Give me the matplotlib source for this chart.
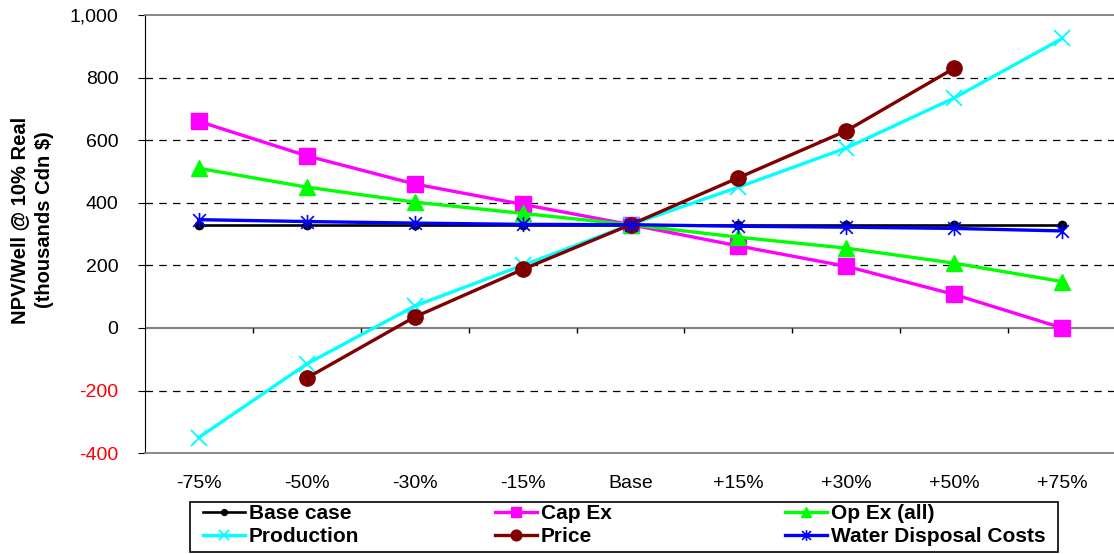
import numpy as np
import matplotlib
matplotlib.use('Agg')
import matplotlib.pyplot as plt
from matplotlib.patches import Rectangle
from matplotlib.path import Path
from matplotlib.ticker import FuncFormatter

plt.rcParams['font.family'] = ['Liberation Sans', 'DejaVu Sans']

categories = ['-75%', '-50%', '-30%', '-15%', 'Base', '+15%', '+30%', '+50%', '+75%']
base_case = [330, 330, 330, 330, 330, 330, 330, 330, 330]
cap_ex = [660, 550, 460, 395, 330, 262, 197, 107, 0]
op_ex = [510, 450, 402, 366, 330, 290, 255, 207, 148]
production = [-350, -115, 70, 200, 330, 450, 575, 735, 925]
price = [np.nan, -160, 35, 187, 330, 480, 630, 830, np.nan]
water = [346, 340, 335, 331, 330, 325, 322, 318, 310]

x = np.arange(len(categories))

# excel style star: an x with a vertical bar through it
star = Path([(-1, -1), (1, 1), (-1, 1), (1, -1), (0, -1.2), (0, 1.2)],
            [Path.MOVETO, Path.LINETO] * 3)

fig = plt.figure(figsize=(11.14, 5.54), dpi=100)
ax = fig.add_axes([0.130, 0.182, 0.872, 0.791])

ax.plot(x, base_case, color='black', lw=1.9, marker='o', ms=6, label='Base case')
ax.plot(x, cap_ex, color='#ff00ff', lw=2.4, marker='s', ms=11, label='Cap Ex')
ax.plot(x, op_ex, color='#00ff00', lw=2.4, marker='^', ms=11, label='Op Ex (all)')
ax.plot(x, production, color='#00ffff', lw=2.4, marker='x', ms=11, mew=1.3, label='Production')
ax.plot(x, price, color='#800000', lw=2.4, marker='o', ms=11, label='Price')
ax.plot(x, water, color='#0000ff', lw=2.4, marker=star, ms=11, mew=1.2,
        label='Water Disposal Costs')

ax.set_xlim(-0.5, 8.5)
ax.set_ylim(-400, 1000)
ax.set_yticks(np.arange(-400, 1001, 200))
ax.yaxis.set_major_formatter(FuncFormatter(lambda v, p: f'{v:,.0f}'))
for lab, v in zip(ax.get_yticklabels(), ax.get_yticks()):
    if v < 0:
        lab.set_color('red')

for v in [-200, 200, 400, 600, 800]:
    ax.axhline(v, color='black', lw=0.9, ls=(0, (6, 5)), zorder=0)
ax.axhline(0, color='#808080', lw=1.5, zorder=0)
ax.vlines(x[:-1] + 0.5, -16, 0, color='black', lw=1, zorder=0)

ax.set_xticks(x)
ax.set_xticklabels(categories)
ax.tick_params(axis='x', length=0, pad=16, labelsize=14)
ax.tick_params(axis='y', length=5, labelsize=14, pad=14)

ax.spines['top'].set_color('#808080')
ax.spines['bottom'].set_color('#808080')
ax.spines['right'].set_visible(False)
ax.spines['left'].set_color('black')
ax.spines['top'].set_linewidth(1.3)
ax.spines['bottom'].set_linewidth(1.3)

ax.set_ylabel('NPV/Well @ 10% Real\n(thousands Cdn $)', fontsize=14.5,
              fontweight='bold', linespacing=1.45)
ax.yaxis.set_label_coords(-0.093, 0.532)

# legend: three columns of equal width inside one frame
h, l = ax.get_legend_handles_labels()
col_x = [0.1822, 0.4443, 0.7047]
for c, xc in enumerate(col_x):
    fig.legend([h[c], h[c + 3]], [l[c], l[c + 3]], loc='upper left',
               bbox_to_anchor=(xc, 0.0903), frameon=False,
               prop={'weight': 'bold', 'size': 15},
               handlelength=2.0, handletextpad=0.2, borderpad=0,
               labelspacing=0.2, markerscale=0.7, borderaxespad=0)
fig.add_artist(Rectangle((190 / 1114, 2 / 554), 868 / 1114, 50 / 554,
                         transform=fig.transFigure, fill=False,
                         edgecolor='black', lw=1.2))

fig.savefig('out.png', dpi=100)
